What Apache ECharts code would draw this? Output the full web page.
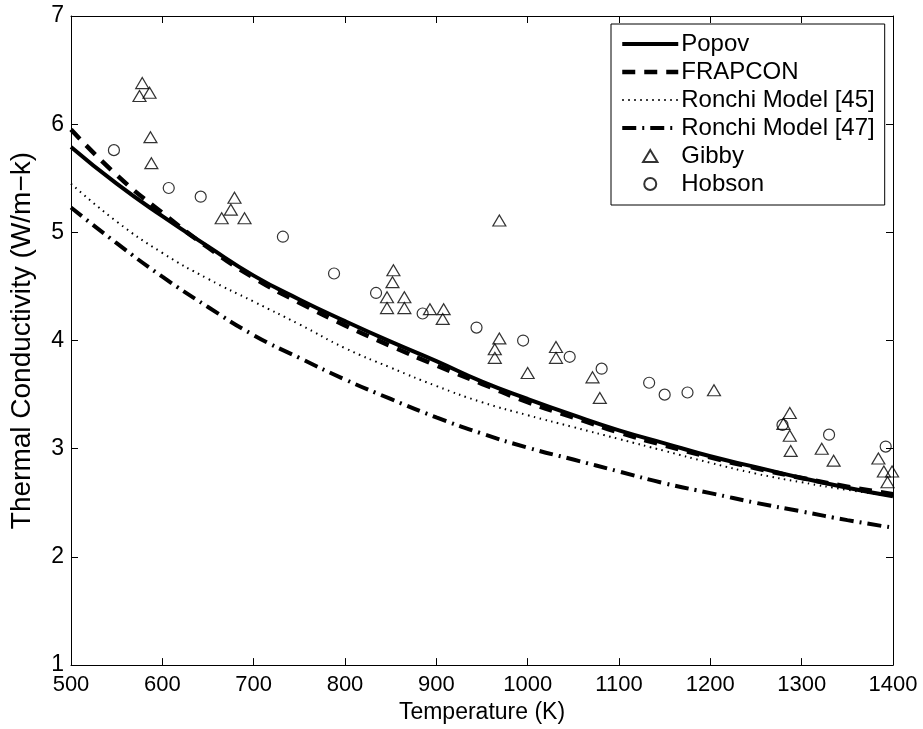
<!DOCTYPE html>
<html>
<head>
<meta charset="utf-8">
<script src="https://cdn.jsdelivr.net/npm/echarts@6/dist/echarts.min.js"></script>
<style>html,body{margin:0;padding:0;background:#fff}#c{width:923px;height:729px}</style>
</head>
<body>
<div id="c"></div>
<script>
// Curve sample temperatures (K)
var curveT = [500, 550, 600, 650, 700, 750, 800, 850, 900, 950, 1000, 1050, 1100, 1150, 1200, 1250, 1300, 1350, 1400];
var popov   = [5.79, 5.45, 5.15, 4.87, 4.60, 4.38, 4.18, 3.99, 3.81, 3.62, 3.46, 3.31, 3.17, 3.05, 2.93, 2.83, 2.73, 2.64, 2.56];
var frapcon = [5.95, 5.53, 5.18, 4.86, 4.58, 4.35, 4.14, 3.95, 3.77, 3.60, 3.43, 3.29, 3.15, 3.03, 2.92, 2.82, 2.73, 2.65, 2.58];
var ronchi45 = [5.45, 5.10, 4.81, 4.57, 4.36, 4.15, 3.93, 3.75, 3.58, 3.43, 3.31, 3.20, 3.09, 2.98, 2.87, 2.77, 2.69, 2.62, 2.56];
var ronchi47 = [5.23, 4.90, 4.59, 4.31, 4.05, 3.84, 3.64, 3.46, 3.29, 3.14, 3.01, 2.90, 2.79, 2.68, 2.59, 2.50, 2.42, 2.34, 2.27];

// Gibby data (T, k)
var gibbyT = [578, 575, 586, 587, 588, 679, 675, 665, 690, 969, 853, 852, 846, 865, 846, 865, 893, 908, 907, 969, 964, 964, 1031, 1031, 1000, 1071, 1079, 1204, 1287, 1280, 1287, 1288, 1322, 1335, 1384, 1390, 1399, 1394];
var gibbyK = [6.38, 6.26, 6.29, 5.88, 5.64, 5.32, 5.21, 5.13, 5.13, 5.11, 4.65, 4.54, 4.40, 4.40, 4.30, 4.30, 4.29, 4.29, 4.20, 4.02, 3.92, 3.84, 3.94, 3.84, 3.70, 3.66, 3.47, 3.54, 3.33, 3.23, 3.12, 2.98, 3.00, 2.89, 2.91, 2.79, 2.79, 2.69];

// Hobson data (T, k)
var hobsonT = [547, 607, 642, 732, 788, 834, 885, 944, 995, 1046, 1081, 1133, 1150, 1175, 1279, 1330, 1392];
var hobsonK = [5.76, 5.41, 5.33, 4.96, 4.62, 4.44, 4.25, 4.12, 4.00, 3.85, 3.74, 3.61, 3.50, 3.52, 3.22, 3.13, 3.02];

var xTicks = {min: 500, max: 1400, interval: 100};
var yTicks = {min: 1, max: 7, interval: 1};

function pairs(xs, ys) { return xs.map(function (x, i) { return [x, ys[i]]; }); }

var FONT = 'Liberation Sans';
var chart = echarts.init(document.getElementById('c'), null, {renderer: 'canvas'});

function lineSeries(name, data, width, type) {
  return {
    name: name, type: 'line', data: pairs(curveT, data), symbol: 'none', smooth: true,
    lineStyle: {color: '#000', width: width, type: type},
    itemStyle: {color: '#000'}, z: 2, animation: false
  };
}

var axisCommonX = {
  type: 'value', min: xTicks.min, max: xTicks.max, interval: xTicks.interval,
  axisLine: {show: true, onZero: false, lineStyle: {color: '#000', width: 1}},
  axisTick: {show: true, inside: true, length: 7, lineStyle: {color: '#000', width: 1}},
  splitLine: {show: false}
};
var axisCommonY = {
  type: 'value', min: yTicks.min, max: yTicks.max, interval: yTicks.interval,
  axisLine: {show: true, onZero: false, lineStyle: {color: '#000', width: 1}},
  axisTick: {show: true, inside: true, length: 7, lineStyle: {color: '#000', width: 1}},
  splitLine: {show: false}
};

var hideSym = {opacity: 0};
var option = {
  backgroundColor: '#fff',
  animation: false,
  grid: {left: 63, right: 30, top: 16, bottom: 63, containLabel: false},
  legend: {
    orient: 'vertical', left: 611, top: 24,
    backgroundColor: '#fff', borderColor: '#000', borderWidth: 1,
    padding: [8, 10, 9, 9],
    itemWidth: 56, itemHeight: 12, itemGap: 4,
    textStyle: {fontFamily: FONT, fontSize: 24, color: '#000', lineHeight: 22, padding: [0, 0, 0, -2]},
    data: [
      {name: 'Popov', itemStyle: hideSym, lineStyle: {width: 4}},
      {name: 'FRAPCON', itemStyle: hideSym, lineStyle: {width: 4.5}},
      {name: 'Ronchi Model [45]', itemStyle: hideSym, lineStyle: {width: 2}},
      {name: 'Ronchi Model [47]', itemStyle: hideSym, lineStyle: {width: 4}},
      {name: 'Gibby', icon: 'path://M6,0 L12,10 L0,10 Z'},
      {name: 'Hobson', icon: 'circle'}
    ]
  },
  xAxis: [
    Object.assign({}, axisCommonX, {
      position: 'bottom',
      name: 'Temperature (K)', nameLocation: 'middle', nameGap: 34,
      nameTextStyle: {fontFamily: FONT, fontSize: 23, color: '#000'},
      axisLabel: {fontFamily: FONT, fontSize: 22, color: '#000', margin: 9,
        formatter: function (v) { return String(v); }}
    }),
    Object.assign({}, axisCommonX, {position: 'top', axisLabel: {show: false}})
  ],
  yAxis: [
    Object.assign({}, axisCommonY, {
      position: 'left',
      name: 'Thermal Conductivity (W/m\u2212k)', nameLocation: 'middle', nameGap: 35,
      nameTextStyle: {fontFamily: FONT, fontSize: 28, color: '#000'},
      axisLabel: {fontFamily: FONT, fontSize: 23, color: '#000', margin: 7,
        formatter: function (v) { return String(v); }}
    }),
    Object.assign({}, axisCommonY, {position: 'right', axisLabel: {show: false}})
  ],
  series: [
    lineSeries('Popov', popov, 4, 'solid'),
    lineSeries('FRAPCON', frapcon, 4.5, [13, 9]),
    lineSeries('Ronchi Model [45]', ronchi45, 2, [1.5, 4.5]),
    lineSeries('Ronchi Model [47]', ronchi47, 4, [14, 6, 2, 6]),
    {
      name: 'Gibby', type: 'scatter', data: pairs(gibbyT, gibbyK),
      symbol: 'triangle', symbolSize: [13, 11],
      itemStyle: {color: 'rgba(0,0,0,0)', borderColor: '#000', borderWidth: 1.2}, z: 3
    },
    {
      name: 'Hobson', type: 'scatter', data: pairs(hobsonT, hobsonK),
      symbol: 'circle', symbolSize: 11,
      itemStyle: {color: 'rgba(0,0,0,0)', borderColor: '#000', borderWidth: 1.2}, z: 3
    }
  ]
};
chart.setOption(option);
</script>
</body>
</html>
